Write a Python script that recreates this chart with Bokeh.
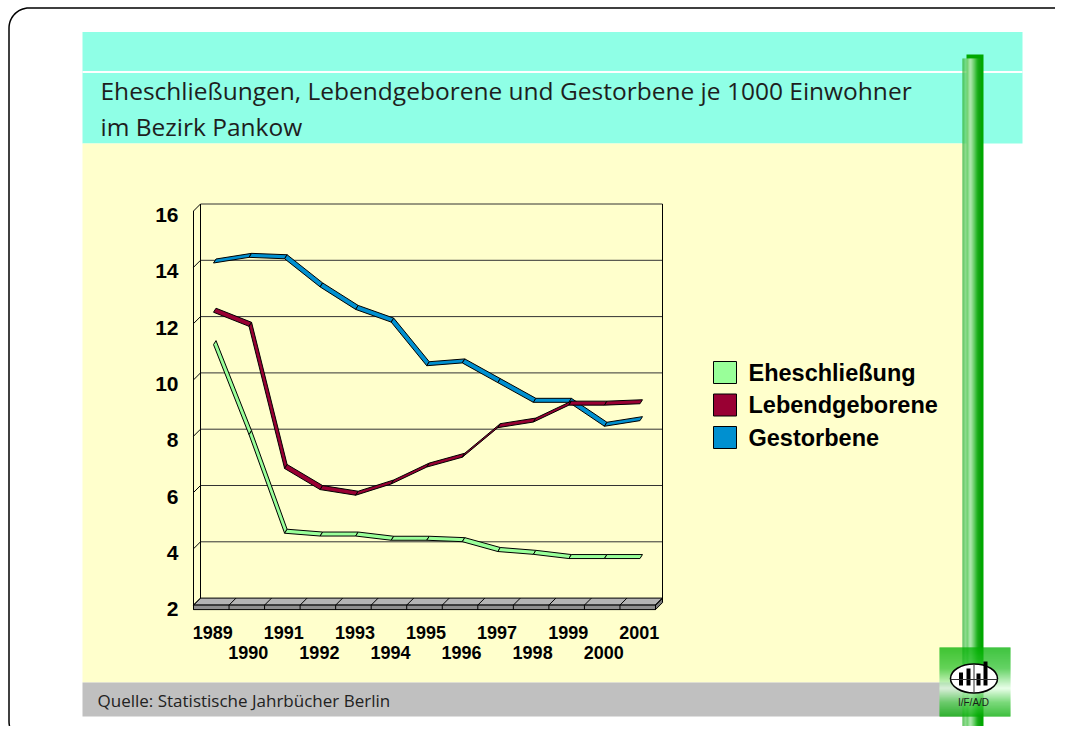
import numpy as np
from bokeh.plotting import figure
from bokeh.models import Range1d
from bokeh.core.properties import value
from bokeh.embed import file_html
from bokeh.resources import INLINE

# ---------------- data ----------------
years = ["1989", "1990", "1991", "1992", "1993", "1994", "1995",
         "1996", "1997", "1998", "1999", "2000", "2001"]
eheschliessung = [11.2, 8.0, 4.5, 4.4, 4.4, 4.25, 4.25, 4.2, 3.85, 3.75, 3.6, 3.6, 3.6]
lebendgeborene = [12.35, 11.85, 6.8, 6.05, 5.85, 6.25, 6.85, 7.2, 8.25, 8.45, 9.05, 9.05, 9.1]
gestorbene = [14.1, 14.3, 14.25, 13.25, 12.45, 12.0, 10.45, 10.55, 9.85, 9.15, 9.15, 8.3, 8.5]
series_names = ["Eheschließung", "Lebendgeborene", "Gestorbene"]
series_colors = ["#99FF99", "#990033", "#0090D0"]
y_ticks = [2, 4, 6, 8, 10, 12, 14, 16]
title_lines = ["Eheschließungen, Lebendgeborene und Gestorbene je 1000 Einwohner",
               "im Bezirk Pankow"]
source_text = "Quelle: Statistische Jahrbücher Berlin"

# ---------------- layout ----------------
OX, OY = 0, 0
W, H = 1055, 726
WALL_L, WALL_R = 200.0, 662.0
Y_BASE = 597.6          # value 2 on back wall
PXU = 28.15             # pixels per unit
DEPTH = 7.0
NCAT = len(years)
DXC = (WALL_R - WALL_L) / NCAT
X_BACK0 = WALL_L + DXC / 2
VMIN, VMAX = y_ticks[0], y_ticks[-1]


def yr(f):
    return Range1d(VMIN + (Y_BASE + f * DEPTH - (OY + H)) / PXU,
                   VMIN + (Y_BASE + f * DEPTH - OY) / PXU)


def xr(f):
    return Range1d((OX - X_BACK0 + f * DEPTH) / DXC,
                   (OX + W - X_BACK0 + f * DEPTH) / DXC)


p = figure(width=W, height=H, x_range=Range1d(OX, OX + W), y_range=Range1d(OY + H, OY),
           output_backend="svg", toolbar_location=None, x_axis_location=None,
           y_axis_location=None, min_border=0, outline_line_color=None,
           background_fill_color="white", border_fill_color="white")
p.grid.visible = False
p.extra_x_ranges = {"back": xr(0), "mid": xr(0.5), "front": xr(1)}
p.extra_y_ranges = {"back": yr(0), "mid": yr(0.5), "front": yr(1)}

FONT = value("Liberation Sans")
TFONT = value("Open Sans")

# ---------------- slide background ----------------
p.quad(left=82, right=1022, top=31.5, bottom=143, fill_color="#8FFFE6", line_color=None)
p.quad(left=82, right=1022, top=70.5, bottom=72.5, fill_color="white", line_color=None)
p.quad(left=82, right=962, top=143, bottom=682, fill_color="#FFFFCC", line_color=None)
p.quad(left=82, right=962, top=682, bottom=716, fill_color="#C0C0C0", line_color=None)

p.text(x=[100, 100], y=[90, 126], text=title_lines, text_font=TFONT, text_font_size="24.5px",
       text_color="#1E1E1E", text_align="left", text_baseline="middle")
p.text(x=[97], y=[700], text=[source_text], text_font=TFONT, text_font_size="17px",
       text_color="#222222", text_align="left", text_baseline="middle")

# rounded border
def rounded(l, t, r, b, rad, n=16):
    pts = []
    for cx, cy, a0 in [(r - rad, t + rad, -90), (r - rad, b - rad, 0), (l + rad, b - rad, 90), (l + rad, t + rad, 180)]:
        a = np.radians(np.linspace(a0, a0 + 90, n))
        pts += list(zip(cx + rad * np.cos(a), cy + rad * np.sin(a)))
    pts.append(pts[0])
    return [q[0] for q in pts], [q[1] for q in pts]

bx, by = rounded(8.5, 7.5, 1078, 741, 20)
p.line(bx, by, line_color="black", line_width=1.5)

# ---------------- 3D chart frame ----------------
D = DEPTH
FT = 4.5
p.patch([WALL_L, WALL_R, WALL_R - D, WALL_L - D], [Y_BASE, Y_BASE, Y_BASE + D, Y_BASE + D],
        fill_color="#B4B4B4", line_color="black", line_width=1)
p.patch([WALL_L - D, WALL_R - D, WALL_R - D, WALL_L - D],
        [Y_BASE + D, Y_BASE + D, Y_BASE + D + FT, Y_BASE + D + FT],
        fill_color="#909090", line_color="black", line_width=1)
p.patch([WALL_R - D, WALL_R, WALL_R, WALL_R - D],
        [Y_BASE + D, Y_BASE, Y_BASE + FT, Y_BASE + D + FT],
        fill_color="#7A7A7A", line_color="black", line_width=1)
bxs = [WALL_L + k * DXC for k in range(NCAT + 1)]
p.multi_line(xs=[[x, x - D, x - D] for x in bxs],
             ys=[[Y_BASE, Y_BASE + D, Y_BASE + D + FT] for _ in bxs],
             line_color="black", line_width=1)

# gridlines on back wall
grid_vals = y_ticks[1:]
p.segment(x0=[WALL_L] * len(grid_vals), x1=[WALL_R] * len(grid_vals), y0=grid_vals, y1=grid_vals,
          y_range_name="back", line_color="#333333", line_width=1)
# left wall diagonals
p.segment(x0=[WALL_L - D] * len(grid_vals), x1=[WALL_L] * len(grid_vals),
          y0=[v - D / PXU for v in grid_vals], y1=grid_vals,
          y_range_name="back", line_color="black", line_width=1)
# wall edges
p.segment(x0=[WALL_L, WALL_R, WALL_L - D], x1=[WALL_L, WALL_R, WALL_L - D],
          y0=[VMIN, VMIN, VMIN - D / PXU], y1=[VMAX, VMAX, VMAX - D / PXU],
          y_range_name="back", line_color="black", line_width=1)

# ---------------- series ribbons ----------------
HX = 1.25 / DXC
HY = 2.0 / PXU


def ribbon(vals):
    xs, ys = [], []
    for i in range(len(vals) - 1):
        xs.append([i - HX, i + 1 - HX, i + 1 + HX, i + HX])
        ys.append([vals[i] - HY, vals[i + 1] - HY, vals[i + 1] + HY, vals[i] + HY])
    return xs, ys

for vals, col in [(gestorbene, series_colors[2]), (lebendgeborene, series_colors[1]),
                  (eheschliessung, series_colors[0])]:
    xs, ys = ribbon(vals)
    p.patches(xs=xs, ys=ys, x_range_name="mid", y_range_name="mid",
              fill_color=col, line_color="black", line_width=1)

# ---------------- axis labels ----------------
p.text(x=[178] * len(y_ticks), y=y_ticks, text=[str(v) for v in y_ticks], y_range_name="front",
       y_offset=4, text_font=FONT, text_font_size="21px", text_font_style="bold",
       text_color="black", text_align="right", text_baseline="middle")
idx = list(range(NCAT))
p.text(x=idx[0::2], y=[632] * len(idx[0::2]), text=years[0::2], x_range_name="front",
       x_offset=1.5, text_font=FONT, text_font_size="18px", text_font_style="bold",
       text_color="black", text_align="center", text_baseline="middle")
p.text(x=idx[1::2], y=[652] * len(idx[1::2]), text=years[1::2], x_range_name="front",
       x_offset=1.5, text_font=FONT, text_font_size="18px", text_font_style="bold",
       text_color="black", text_align="center", text_baseline="middle")

# ---------------- legend ----------------
leg_y = [372, 404.5, 437]
p.rect(x=[724.5] * 3, y=leg_y, width=23, height=22, fill_color=series_colors,
       line_color="black", line_width=1)
p.text(x=[748] * 3, y=leg_y, text=series_names, text_font=FONT, text_font_size="23.5px",
       text_font_style="bold", text_color="black", text_align="left", text_baseline="middle")

# ---------------- green pillar ----------------
def grad(stops, pos):
    sp = np.array([s[0] for s in stops], float)
    cols = np.array([s[1] for s in stops], float)
    out = []
    for q in pos:
        c = [np.interp(q, sp, cols[:, k]) for k in range(3)]
        out.append("#%02x%02x%02x" % tuple(int(round(v)) for v in c))
    return out

p.quad(left=966, right=983, top=54, bottom=728, fill_color="#00A800", line_color=None)
cx = np.arange(962, 980)
ccols = grad([(962, (40, 175, 40)), (966, (120, 215, 120)), (970, (240, 255, 240)),
              (974, (130, 215, 130)), (977, (40, 180, 40)), (979, (20, 160, 20))], cx + 0.5)
p.quad(left=cx, right=cx + 1, top=[58] * len(cx), bottom=[730] * len(cx),
       fill_color=ccols, line_color=None)

# ---------------- logo ----------------
ly = np.arange(647, 716)
lcols = grad([(647, (0, 176, 0)), (668, (50, 195, 50)), (688, (225, 255, 225)),
              (702, (80, 205, 80)), (716, (0, 170, 0))], ly + 0.5)
p.quad(left=[939] * len(ly), right=[1010] * len(ly), top=ly, bottom=ly + 1,
       fill_color=lcols, line_color=None)
p.ellipse(x=[973.5], y=[678], width=47, height=29, fill_color="white", line_color="black",
          line_width=1.5)
p.quad(left=[958.5, 966, 976, 983], right=[962.5, 970, 980, 987],
       top=[672, 668, 673, 661], bottom=[685, 685, 685, 685], fill_color="black", line_color=None)
p.segment(x0=[950, 973.5], x1=[997, 973.5], y0=[679, 664], y1=[679, 692],
          line_color="#333333", line_width=1)
p.text(x=[973], y=[702], text=["I/F/A/D"], text_font=FONT, text_font_size="10px",
       text_color="#1a1a1a", text_align="center", text_baseline="middle")

open("out.html", "w").write(file_html(p, INLINE))
